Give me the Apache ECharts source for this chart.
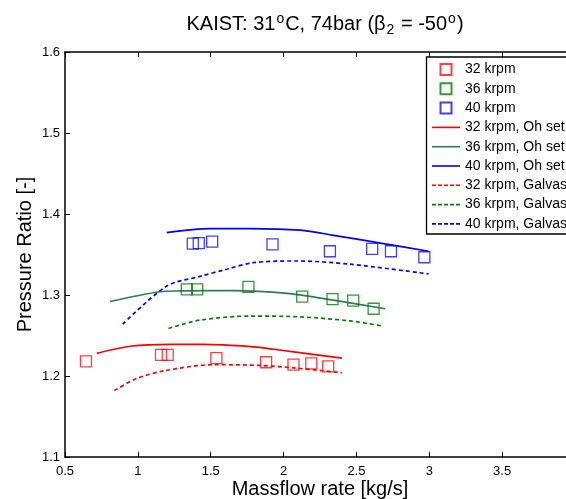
<!DOCTYPE html>
<html>
<head>
<meta charset="utf-8">
<script src="https://cdn.jsdelivr.net/npm/echarts@6/dist/echarts.min.js"></script>
<style>
html,body{margin:0;padding:0;background:#fff;}
#c{width:566px;height:499px;}
</style>
</head>
<body>
<div id="c"></div>
<script>
// ---- data ----
var xTicks = [0.5, 1, 1.5, 2, 2.5, 3, 3.5];
var yTicks = [1.1, 1.2, 1.3, 1.4, 1.5, 1.6];

var meas32 = [[0.644,1.218],[1.159,1.226],[1.205,1.226],[1.539,1.222],[1.880,1.217],[2.068,1.214],[2.190,1.2155],[2.306,1.212]];
var meas36 = [[1.336,1.307],[1.407,1.307],[1.759,1.310],[2.128,1.298],[2.336,1.295],[2.478,1.293],[2.618,1.283]];
var meas40 = [[1.377,1.3635],[1.418,1.364],[1.510,1.366],[1.924,1.3626],[2.318,1.354],[2.608,1.357],[2.737,1.354],[2.966,1.3466]];

var oh32 = [[0.718,1.228],[0.958,1.237],[1.221,1.239],[1.450,1.239],[1.793,1.236],[1.931,1.233],[2.400,1.222]];
var oh36 = [[0.809,1.292],[1.152,1.304],[1.290,1.305],[1.656,1.3055],[2.023,1.302],[2.343,1.2936],[2.698,1.283]];
var oh40 = [[1.198,1.377],[1.496,1.382],[1.770,1.382],[2.114,1.380],[2.343,1.3737],[2.686,1.3635],[2.995,1.354]];

var gal32 = [[0.839,1.182],[0.992,1.197],[1.198,1.207],[1.519,1.214],[1.839,1.213],[2.068,1.210],[2.400,1.204]];
var gal36 = [[1.210,1.2587],[1.427,1.269],[1.770,1.274],[2.114,1.273],[2.457,1.268],[2.686,1.2615]];
var gal40 = [[0.896,1.264],[1.198,1.311],[1.427,1.323],[1.610,1.3318],[1.793,1.340],[2.091,1.342],[2.457,1.338],[2.995,1.326]];

var names = ['32 krpm','36 krpm','40 krpm','32 krpm, Oh set','36 krpm, Oh set','40 krpm, Oh set','32 krpm, Galvas','36 krpm, Galvas','40 krpm, Galvas'];

// ---- chart ----
var FONT = 'Liberation Sans, Arial, sans-serif';
var chart = echarts.init(document.getElementById('c'), null, {renderer:'canvas'});

function scatter(name, data, col){
  return {name:name, type:'scatter', data:data, symbol:'rect', symbolSize:11,
    itemStyle:{color:'rgba(0,0,0,0)', borderColor:col, borderWidth:1.3, opacity:1},
    emphasis:{disabled:true}, z:3};
}
function line(name, data, col, dashed){
  return {name:name, type:'line', data:data, symbol:'none', smooth:0.3,
    lineStyle:{color:col, width:1.7, type: dashed ? [4,3] : 'solid'},
    itemStyle:{color:col}, emphasis:{disabled:true}, z:2};
}
var sqIcon = 'path://M0,0 L10,0 L10,10 L0,10 Z';
var solidIcon = 'path://M0,0 L28,0 L28,1.6 L0,1.6 Z';
var dashIcon = 'path://M0,0h4v1.6h-4z M6,0h4v1.6h-4z M12,0h4v1.6h-4z M18,0h4v1.6h-4z M24,0h4v1.6h-4z';

var axisCommon = {
  type:'value', min:0.5, max:4, interval:0.5,
  axisLine:{show:true, onZero:false, lineStyle:{color:'#000', width:1.5}},
  axisTick:{show:true, inside:true, length:5, lineStyle:{color:'#000'}},
  splitLine:{show:false}
};

chart.setOption({
  animation:false,
  backgroundColor:'#fff',
  textStyle:{fontFamily:FONT},
  title:{
    text:'KAIST: 31{sup|o}C, 74bar (β{sub|2} = -50{sup|o})',
    left:320, top:7, textAlign:'center',
    textStyle:{fontFamily:FONT, fontSize:20, fontWeight:'normal', color:'#000',
      rich:{
        sup:{fontSize:14, verticalAlign:'top', padding:[0,1,11,1], fontFamily:FONT, color:'#000'},
        sub:{fontSize:14, verticalAlign:'bottom', padding:[9,1,0,1], fontFamily:FONT, color:'#000'}
      }}
  },
  grid:{left:65, top:52, right:-9, bottom:42, containLabel:false, outerBoundsMode:'none'},
  graphic:[{type:'rect', shape:{x:426.5, y:57, width:160, height:177}, style:{fill:'#fff', stroke:'#000', lineWidth:1.3}, z:50}],
  legend:[{
    data:[
      {name:names[0], icon:sqIcon},{name:names[1], icon:sqIcon},{name:names[2], icon:sqIcon},
      {name:names[3], icon:solidIcon},{name:names[4], icon:solidIcon},{name:names[5], icon:solidIcon},
      {name:names[6], icon:dashIcon},{name:names[7], icon:dashIcon},{name:names[8], icon:dashIcon}
    ],
    orient:'vertical', left:427, top:57.5, itemWidth:28, itemHeight:11, itemGap:5.3,
    symbolKeepAspect:true, selectedMode:false, z:60,
    textStyle:{fontFamily:FONT, fontSize:14, color:'#000'}
  }],
  xAxis:[Object.assign({}, axisCommon, {
    position:'bottom', name:'Massflow rate [kg/s]', nameLocation:'middle', nameGap:22,
    nameMoveOverlap:false,
    nameTextStyle:{fontFamily:FONT, fontSize:20, color:'#000'},
    axisLabel:{show:true, color:'#000', fontSize:13, fontFamily:FONT, margin:8,
      formatter:function(v){ return xTicks.indexOf(v)>=0 ? String(v) : ''; }}
  }), Object.assign({}, axisCommon, {position:'top', axisLabel:{show:false}})],
  yAxis:[{
    type:'value', min:1.1, max:1.6, interval:0.1, position:'left',
    name:'Pressure Ratio [-]', nameLocation:'middle', nameGap:30,
    nameMoveOverlap:false,
    nameTextStyle:{fontFamily:FONT, fontSize:20, color:'#000'},
    axisLine:{show:true, onZero:false, lineStyle:{color:'#000', width:1.5}},
    axisTick:{show:true, inside:true, length:5, lineStyle:{color:'#000'}},
    splitLine:{show:false},
    axisLabel:{color:'#000', fontSize:13, fontFamily:FONT, margin:5,
      formatter:function(v){ var t = yTicks.find(function(k){return Math.abs(k-v)<1e-6;}); return t!==undefined ? t.toFixed(1) : ''; }}
  }],
  series:[
    scatter(names[0], meas32, 'rgba(255,0,0,0.75)'),
    scatter(names[1], meas36, 'rgba(0,128,0,0.8)'),
    scatter(names[2], meas40, 'rgba(0,0,255,0.75)'),
    line(names[3], oh32, '#ff0000', false),
    line(names[4], oh36, '#2e7d5a', false),
    line(names[5], oh40, '#0000ff', false),
    line(names[6], gal32, '#ff0000', true),
    line(names[7], gal36, '#008000', true),
    line(names[8], gal40, '#0000ff', true)
  ]
});
</script>
</body>
</html>
